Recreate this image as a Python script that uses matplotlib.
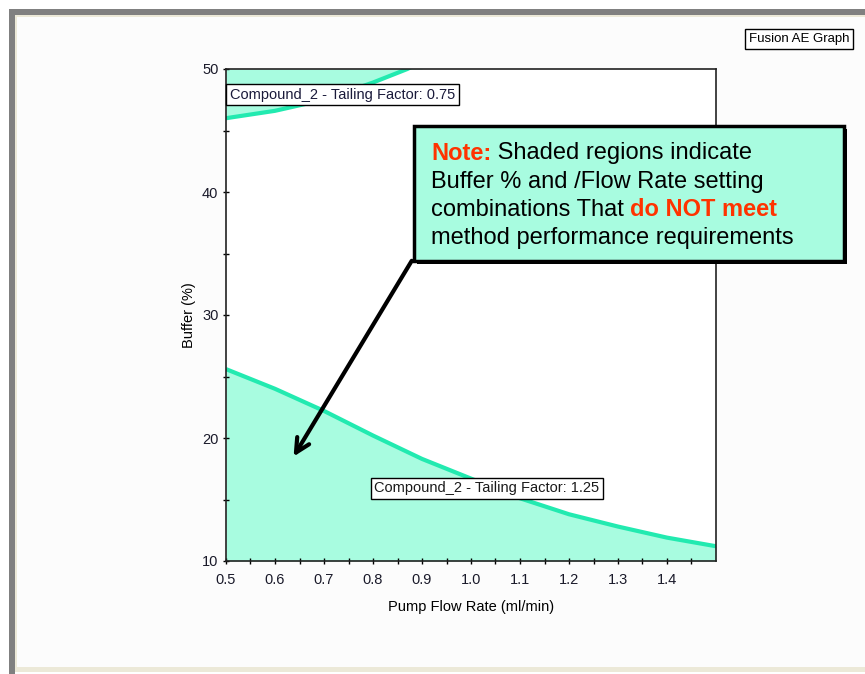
import numpy as np
import matplotlib
matplotlib.use("Agg")
import matplotlib.pyplot as plt
from matplotlib.patches import Rectangle

# Design-space contours for Compound_2 tailing factor
flow_low = [0.5, 0.6, 0.7, 0.8, 0.9, 1.0, 1.1, 1.2, 1.3, 1.4, 1.5]
buffer_tf125 = [25.6, 24.0, 22.2, 20.2, 18.3, 16.7, 15.1, 13.8, 12.8, 11.9, 11.2]

flow_high = [0.5, 0.6, 0.7, 0.8, 0.87, 0.9]
buffer_tf075 = [46.0, 46.6, 47.5, 48.9, 50.0, 50.6]

x_ticks = [0.5, 0.6, 0.7, 0.8, 0.9, 1.0, 1.1, 1.2, 1.3, 1.4]
y_ticks = [10, 20, 30, 40, 50]

fill_col = "#a8fce0"
line_col = "#22eab0"

W, H = 865, 674
fig = plt.figure(figsize=(W / 100, H / 100), dpi=100)
fig.patch.set_facecolor("white")

def px_rect(x0, y0, x1, y1, z=-5, **kw):
    r = Rectangle((x0 / W, 1 - y1 / H), (x1 - x0) / W, (y1 - y0) / H,
                  transform=fig.transFigure, zorder=z, **kw)
    fig.patches.append(r)
    return r

# window frame
px_rect(9, 9, W, 15, facecolor="#808080", edgecolor="none")
px_rect(9, 9, 15, H, facecolor="#808080", edgecolor="none")
px_rect(15, 15, W, 672, facecolor="#ece9d8", edgecolor="none")
px_rect(17, 17, W, 667, facecolor="#fcfcfc", edgecolor="none")

ax = fig.add_axes([226 / W, 1 - 561 / H, 490 / W, 492 / H])
ax.set_facecolor("white")
ax.set_zorder(1)

xl = np.linspace(flow_low[0], flow_low[-1], 200)
yl = np.interp(xl, flow_low, buffer_tf125)
ax.fill_between(xl, 10, yl, color=fill_col, lw=0, zorder=1)
ax.plot(flow_low, buffer_tf125, color=line_col, lw=3.0, zorder=2,
        solid_capstyle="butt")

ax.fill_between(flow_high, buffer_tf075, 50, color=fill_col, lw=0, zorder=1)
ax.plot(flow_high, buffer_tf075, color=line_col, lw=3.0, zorder=2,
        solid_capstyle="butt")

ax.set_xlim(0.5, 1.5)
ax.set_ylim(10, 50)
ax.set_xticks(x_ticks)
ax.set_xticklabels([f"{v:.1f}" for v in x_ticks])
ax.set_yticks(y_ticks)
ax.set_xticks(np.arange(0.55, 1.5, 0.1), minor=True)
ax.set_yticks([15, 25, 35, 45], minor=True)
ax.tick_params(which="both", direction="inout", length=5, width=1.0,
               labelsize=10.5, labelcolor="#1a1a2a")
ax.tick_params(axis="x", pad=6.5)
ax.tick_params(axis="y", pad=3)
for t in ax.get_xticklabels() + ax.get_yticklabels():
    t.set_family("Liberation Sans")
for s in ax.spines.values():
    s.set_linewidth(1.2)
    s.set_color("#222222")

ax.set_xlabel("Pump Flow Rate (ml/min)", family="Liberation Sans",
              fontsize=10.5, labelpad=9)
ax.set_ylabel("Buffer (%)", family="Liberation Sans", fontsize=10.5,
              labelpad=4)

box_kw = dict(boxstyle="square,pad=0.25", facecolor="white",
              edgecolor="black", lw=1.0)
ax.text(0.508, 47.9, "Compound_2 - Tailing Factor: 0.75", fontsize=10.5,
        family="Liberation Sans", color="#1a1a3a", va="center", ha="left",
        bbox=box_kw, zorder=5)
ax.text(0.803, 15.9, "Compound_2 - Tailing Factor: 1.25", fontsize=10.5,
        family="Liberation Sans", color="#1a1a1a", va="center", ha="left",
        bbox=box_kw, zorder=5)

# caption box
fig.text(749 / W, 1 - 39 / H, "Fusion AE Graph", fontsize=9.5,
         family="Liberation Sans", va="center", ha="left",
         bbox=dict(boxstyle="square,pad=0.3", facecolor="white",
                   edgecolor="black", lw=1.0))

# note panel
px_rect(417, 129, 847, 264, z=6, facecolor="black", edgecolor="none")
px_rect(414, 126, 844, 261, z=7, facecolor=fill_col, edgecolor="black",
        lw=2.5)
orange = "#ff3300"
tx = 431 / W
lines_y = [153, 182, 210, 238]
fs = 17
r = fig.canvas.get_renderer()

def run(parts, y):
    x = tx
    for txt, col, wt in parts:
        t = fig.text(x, 1 - y / H, txt, fontsize=fs, family="Liberation Sans",
                     color=col, weight=wt, va="center", ha="left", zorder=8)
        bb = t.get_window_extent(renderer=r)
        x += bb.width / W

run([("Note:", orange, "bold"), (" Shaded regions indicate", "black", "normal")], lines_y[0])
run([("Buffer % and /Flow Rate setting", "black", "normal")], lines_y[1])
run([("combinations That ", "black", "normal"), ("do NOT meet", orange, "bold")], lines_y[2])
run([("method performance requirements", "black", "normal")], lines_y[3])

# arrow pointing into the shaded region
ax.annotate("", xy=(0.635, 18.3), xytext=(0.882, 34.6),
            xycoords="data", textcoords="data",
            arrowprops=dict(arrowstyle="->,head_length=1.0,head_width=0.5",
                            color="black", lw=3), zorder=6)

fig.savefig("out.png", dpi=100)
